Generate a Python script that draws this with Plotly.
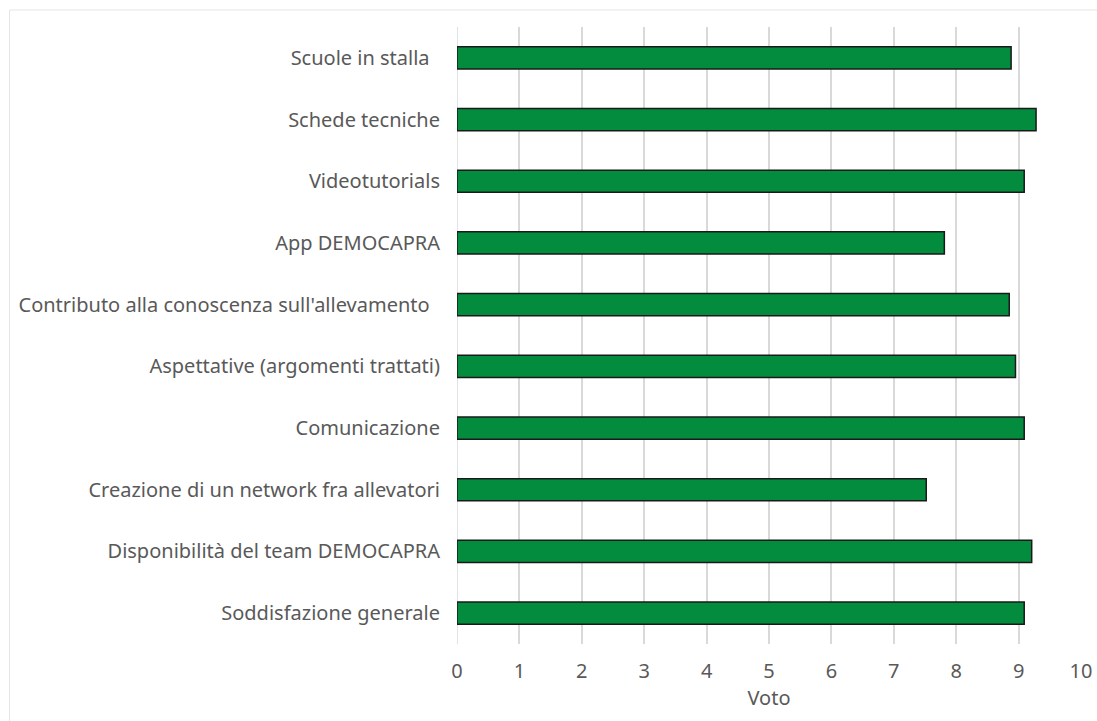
import plotly.graph_objects as go

categories = [
    "Scuole in stalla\u00a0\u00a0",
    "Schede tecniche",
    "Videotutorials",
    "App DEMOCAPRA",
    "Contributo alla conoscenza sull'allevamento\u00a0\u00a0",
    "Aspettative (argomenti trattati)",
    "Comunicazione",
    "Creazione di un network fra allevatori",
    "Disponibilità del team DEMOCAPRA",
    "Soddisfazione generale",
]
values = [8.88, 9.28, 9.09, 7.81, 8.85, 8.95, 9.09, 7.52, 9.21, 9.09]
x_ticks = list(range(0, 11))

font_family = "Noto Sans, DejaVu Sans, sans-serif"
text_color = "#595959"

fig = go.Figure(
    go.Bar(
        x=values,
        y=categories,
        orientation="h",
        width=0.36,
        marker=dict(color="#038C3E", line=dict(color="#1a1a1a", width=1.5)),
        hoverinfo="x+y",
    )
)

fig.update_layout(
    width=1097,
    height=721,
    margin=dict(l=457, r=16, t=27, b=77),
    paper_bgcolor="white",
    plot_bgcolor="white",
    showlegend=False,
    font=dict(family=font_family, size=20, color=text_color),
    xaxis=dict(
        range=[0, 10],
        tickvals=x_ticks,
        ticktext=[str(t) for t in x_ticks],
        showgrid=True,
        gridcolor="#d9d9d9",
        gridwidth=1.5,
        zeroline=False,
        showline=False,
        ticks="",
        ticklabelstandoff=13,
        ticklabeloverflow="allow",
        tickfont=dict(size=20, color=text_color),
        title=dict(text="Voto", font=dict(size=20, color=text_color), standoff=4),
        automargin=False,
    ),
    yaxis=dict(
        categoryorder="array",
        categoryarray=categories[::-1],
        showgrid=False,
        zeroline=False,
        showline=False,
        ticks="",
        ticklabelstandoff=16,
        tickfont=dict(size=20, color=text_color),
        automargin=False,
    ),
    shapes=[
        dict(
            type="rect", xref="paper", yref="paper",
            x0=-(457 - 9.5) / 624, x1=1.2, y0=-0.3, y1=1 + 17 / 617,
            line=dict(color="#e5e5e5", width=1), fillcolor="rgba(0,0,0,0)",
            layer="below",
        ),
        dict(
            type="line", xref="x", yref="paper",
            x0=0, x1=0, y0=0, y1=1,
            line=dict(color="#d9d9d9", width=1.5), layer="below",
        ),
    ],
)

fig.write_html("out.html")
